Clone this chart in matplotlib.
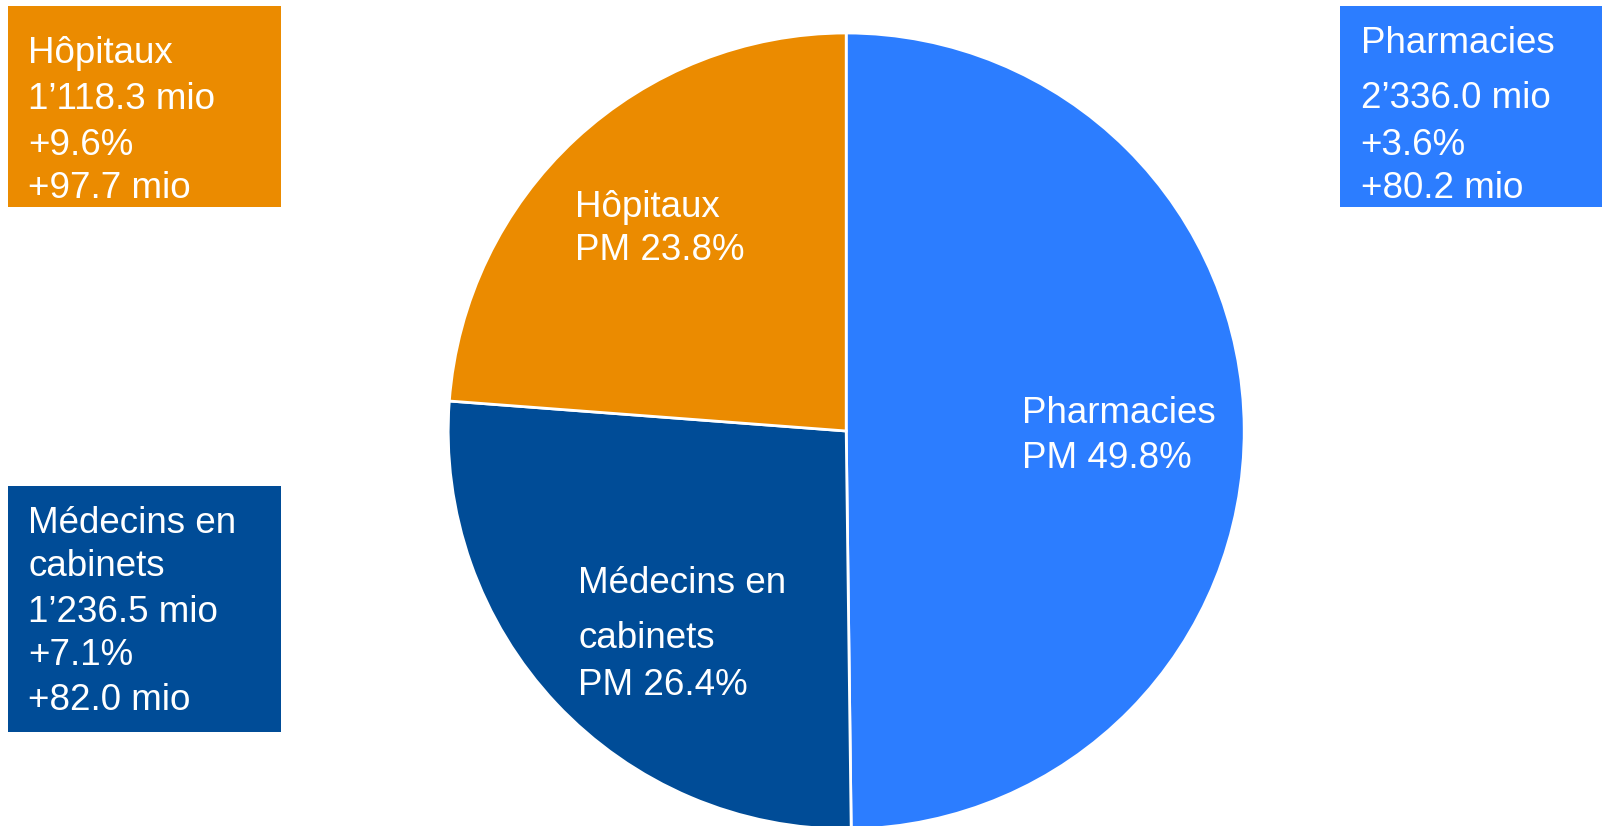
import matplotlib
matplotlib.use('Agg')
import matplotlib.pyplot as plt
from matplotlib.patches import Rectangle

plt.rcParams['font.family'] = ['Liberation Sans', 'DejaVu Sans']

# data
segments = ['Pharmacies', 'Médecins en cabinets', 'Hôpitaux']
pm_share = [49.8, 26.4, 23.8]
amount_mio = ['2’336.0', '1’236.5', '1’118.3']
growth_pct = [3.6, 7.1, 9.6]
growth_mio = [80.2, 82.0, 97.7]
colors = ['#2C7DFF', '#004C97', '#EB8B00']

W, H = 1602, 826
fig = plt.figure(figsize=(W / 100, H / 100), dpi=100)
fig.patch.set_facecolor('white')

# pie, centre (846, 431) px from top, radius 398 px
cx, cy, r = 846.2, 431, 398
ax = fig.add_axes([(cx - r) / W, (H - cy - r) / H, 2 * r / W, 2 * r / H])
ax.pie(pm_share, colors=colors, startangle=90, counterclock=False,
       wedgeprops=dict(edgecolor='white', linewidth=2))
ax.set_xlim(-1, 1)
ax.set_ylim(-1, 1)
ax.axis('off')

# overlay in pixel coordinates for boxes and labels
ov = fig.add_axes([0, 0, 1, 1], zorder=5)
ov.set_xlim(0, W)
ov.set_ylim(H, 0)
ov.axis('off')
ov.patch.set_alpha(0)

fs = 26.5


def lines_at(x, baselines, lines):
    for y, t in zip(baselines, lines):
        ov.text(x, y, t, color='white', fontsize=fs, va='baseline', ha='left')


# info boxes
boxes = [
    (1340, 5.7, 262, 201, 1360.7, [53.3, 108.3, 155, 198.3]),
    (8, 485.7, 273, 246, 28, [533, 576, 622, 665, 710]),
    (8, 5.7, 273, 201, 28, [63.3, 109, 155, 197.5]),
]
for i, (bx, by, bw, bh, tx, bl) in enumerate(boxes):
    ov.add_patch(Rectangle((bx, by), bw, bh, facecolor=colors[i], edgecolor='none'))
    name_lines = segments[i].replace('en cabinets', 'en\ncabinets').split('\n')
    txt = name_lines + ['%s mio' % amount_mio[i],
                        '+%.1f%%' % growth_pct[i],
                        '+%.1f mio' % growth_mio[i]]
    lines_at(tx, bl, txt)

# labels inside the pie
inner = [
    (1021.7, [423.3, 468.3]),
    (578, [593.3, 648.3, 695]),
    (575, [216.7, 260]),
]
for i, (tx, bl) in enumerate(inner):
    name_lines = segments[i].replace('en cabinets', 'en\ncabinets').split('\n')
    lines_at(tx, bl, name_lines + ['PM %.1f%%' % pm_share[i]])

fig.savefig('out.png', dpi=100, facecolor='white')
